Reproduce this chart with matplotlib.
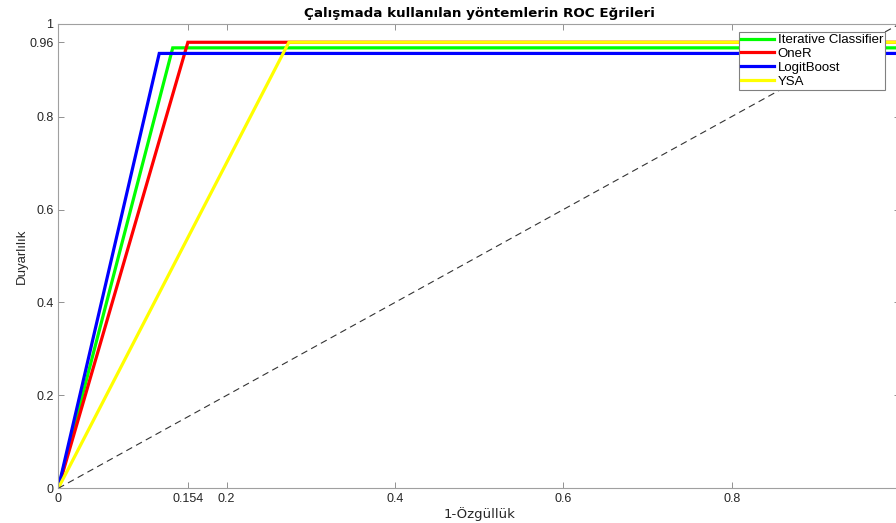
import matplotlib
matplotlib.use("Agg")
import matplotlib.pyplot as plt

# Data
names = ["Iterative Classifier", "OneR", "LogitBoost", "YSA"]
colors = ["#00ff00", "#ff0000", "#0000ff", "#ffff00"]
fpr = [[0, 0.136, 1.0], [0, 0.154, 1.0], [0, 0.12, 1.0], [0, 0.274, 1.0]]
tpr = [[0, 0.948, 0.948], [0, 0.96, 0.96], [0, 0.936, 0.936], [0, 0.96, 0.96]]
xticks = [0, 0.154, 0.2, 0.4, 0.6, 0.8, 1]
yticks = [0, 0.2, 0.4, 0.6, 0.8, 0.96, 1]
title = "Çalışmada kullanılan yöntemlerin ROC Eğrileri"
xlabel = "1-Özgüllük"
ylabel = "Duyarlılık"

plt.rcParams['font.family'] = ['Liberation Sans', 'DejaVu Sans']

fig = plt.figure(figsize=(8.96, 5.23), dpi=100)
ax = fig.add_axes([0.065, 0.0663, 0.9395, 0.8884])

for x, y, c, n in zip(fpr, tpr, colors, names):
    ax.plot(x, y, color=c, lw=2.3, label=n, solid_joinstyle='miter')
ax.plot([0, 1], [0, 1], color="#333333", lw=0.8, ls=(0, (6, 4)))

ax.set_xlim(0, 1)
ax.set_ylim(0, 1)
ax.set_xticks(xticks)
ax.set_xticklabels([("%g" % v) if v < 1 else "" for v in xticks])
ax.set_yticks(yticks)
ax.set_yticklabels([("%g" % v) for v in yticks])
ax.tick_params(direction='in', top=True, right=True, length=4, width=0.6,
               colors="#808080", labelcolor="#262626", labelsize=9)
for s in ax.spines.values():
    s.set_color("#a0a0a0")
    s.set_linewidth(0.8)

ax.set_title(title, fontsize=9.7, fontweight='bold', pad=5, color="#000000",
             family=['DejaVu Sans'])
ax.set_xlabel(xlabel, fontsize=9.5, color="#262626", labelpad=1.5,
              family=['DejaVu Sans'])
ax.set_ylabel(ylabel, fontsize=9.5, color="#262626", labelpad=1,
              family=['Liberation Sans Narrow', 'Liberation Sans', 'DejaVu Sans'])

leg = ax.legend(loc='upper right', bbox_to_anchor=(0.982, 0.982), fontsize=9.5,
                frameon=True, fancybox=False, framealpha=1.0, borderpad=0.15,
                labelspacing=0.12, handlelength=2.5, handletextpad=0.25,
                borderaxespad=0.0)
leg.get_frame().set_edgecolor("#808080")
leg.get_frame().set_linewidth(0.8)

fig.savefig("out.png", dpi=100)
